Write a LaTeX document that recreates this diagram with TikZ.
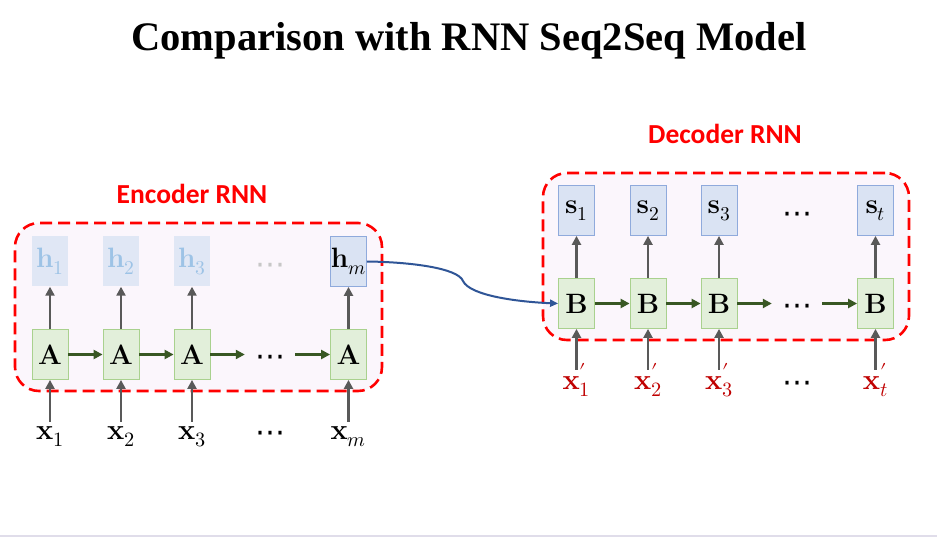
\documentclass[tikz,border=0pt]{standalone}
\usepackage{fontspec}
\usepackage{unicode-math}
\setmathfont{Latin Modern Math}
\newfontfamily\titlefont{Liberation Serif}
\newfontfamily\capfont{Carlito}
\newfontfamily\dotfont{DejaVu Sans}
\usetikzlibrary{arrows.meta}
\definecolor{boxpink}{HTML}{FBF6FC}
\definecolor{gfill}{HTML}{E2EFDA}
\definecolor{gline}{HTML}{A9D18E}
\definecolor{bfill}{HTML}{DAE3F3}
\definecolor{bline}{HTML}{8FAADC}
\definecolor{fadetext}{HTML}{9DC3E6}
\definecolor{garrow}{HTML}{595959}
\definecolor{greenarrow}{HTML}{385723}
\definecolor{curveblue}{HTML}{2F5597}
\definecolor{xred}{HTML}{C00000}
\definecolor{bottomline}{HTML}{E0DDEA}
\begin{document}
\begin{tikzpicture}[x=1pt,y=-1pt,
  cellbox/.style={minimum width=36pt,minimum height=50pt,inner sep=0pt,font=\fontsize{28}{30}\selectfont},
  abox/.style={cellbox,fill=gfill,draw=gline,line width=0.8pt},
  hbox/.style={cellbox,fill=bfill,draw=bline,line width=0.8pt},
  fadebox/.style={cellbox,fill=bfill!85!white,text=fadetext},
  inlbl/.style={inner sep=0pt,anchor=base,font=\fontsize{29}{30}\selectfont},
  dotsnode/.style={inner sep=0pt,minimum width=50pt,font=\dotfont\fontsize{30}{32}\selectfont},
  rnnframe/.style={draw=red,fill=boxpink,line width=2.6pt,dash pattern=on 12pt off 6pt,rounded corners=24pt},
  grayarr/.style={draw=garrow,line width=2.8pt,-{Triangle[length=9pt,width=9pt]}},
  greenarr/.style={draw=greenarrow,line width=2.8pt,-{Triangle[length=9pt,width=9pt]}},
  framelbl/.style={text=red,font=\capfont\bfseries\fontsize{27.5}{30}\selectfont}
]
\useasboundingbox (0,0) rectangle (937,537);
\fill[white] (0,0) rectangle (937,537);
\draw[bottomline,line width=1.5pt] (0,536) -- (937,536);

% title
\node[font=\titlefont\bfseries\fontsize{40.5}{44}\selectfont] (title) at (469,41) {Comparison with RNN Seq2Seq Model};

% ---------------- Encoder ----------------
\node[rnnframe,minimum width=367pt,minimum height=168pt] (encframe) at (198.5,307) {};
\node[framelbl] (enclbl) at (192,194) {Encoder RNN};

\node[fadebox] (h1) at (50,261.5) {$\mathbf{h}_1$};
\node[fadebox] (h2) at (121,261.5) {$\mathbf{h}_2$};
\node[fadebox] (h3) at (192,261.5) {$\mathbf{h}_3$};
\node[dotsnode,text=black!22] (hd) at (270,269) {⋯};
\node[hbox] (hm) at (348.5,261.5) {$\mathbf{h}_m$};

\node[abox] (A1) at (50,354.5) {$\mathbf{A}$};
\node[abox] (A2) at (121,354.5) {$\mathbf{A}$};
\node[abox] (A3) at (192,354.5) {$\mathbf{A}$};
\node[dotsnode] (ad) at (270,361) {⋯};
\node[abox] (Am) at (348.5,354.5) {$\mathbf{A}$};

\node[inlbl,text height=17pt] (x1) at (50,439) {$\mathbf{x}_1$};
\node[inlbl,text height=17pt] (x2) at (121,439) {$\mathbf{x}_2$};
\node[inlbl,text height=17pt] (x3) at (192,439) {$\mathbf{x}_3$};
\node[dotsnode] (xd) at (270,437) {⋯};
\node[inlbl,text height=17pt] (xm) at (348.5,439) {$\mathbf{x}_m$};

\foreach \i in {1,2,3,m} {
  \draw[grayarr] (x\i.north) -- (A\i.south);
  \draw[grayarr] (A\i.north) -- (h\i.south);
}
\draw[greenarr] (A1.east) -- (A2.west);
\draw[greenarr] (A2.east) -- (A3.west);
\draw[greenarr] (A3.east) -- (A3.east -| ad.west);
\draw[greenarr] (Am.west -| ad.east) -- (Am.west);

% ---------------- Decoder ----------------
\node[rnnframe,minimum width=366pt,minimum height=167pt] (decframe) at (726,256.5) {};
\node[framelbl] (declbl) at (725,134) {Decoder RNN};

\node[hbox] (s1) at (576.5,210.5) {$\mathbf{s}_1$};
\node[hbox] (s2) at (648,210.5) {$\mathbf{s}_2$};
\node[hbox] (s3) at (719,210.5) {$\mathbf{s}_3$};
\node[dotsnode] (sd) at (797,218) {⋯};
\node[hbox] (st) at (875.5,210.5) {$\mathbf{s}_t$};

\node[abox] (B1) at (576.5,303.5) {$\mathbf{B}$};
\node[abox] (B2) at (648,303.5) {$\mathbf{B}$};
\node[abox] (B3) at (719,303.5) {$\mathbf{B}$};
\node[dotsnode] (bd) at (797,310) {⋯};
\node[abox] (Bt) at (875.5,303.5) {$\mathbf{B}$};

\node[inlbl,text height=19pt,text=xred] (y1) at (576.5,389) {$\mathbf{x}'_1$};
\node[inlbl,text height=19pt,text=xred] (y2) at (648,389) {$\mathbf{x}'_2$};
\node[inlbl,text height=19pt,text=xred] (y3) at (719,389) {$\mathbf{x}'_3$};
\node[dotsnode] (yd) at (797,387) {⋯};
\node[inlbl,text height=19pt,text=xred] (yt) at (875.5,389) {$\mathbf{x}'_t$};

\foreach \i/\j in {1/1,2/2,3/3,t/t} {
  \draw[grayarr] (y\i.north) -- (B\i.south);
  \draw[grayarr] (B\i.north) -- (s\j.south);
}
\draw[greenarr] (B1.east) -- (B2.west);
\draw[greenarr] (B2.east) -- (B3.west);
\draw[greenarr] (B3.east) -- (B3.east -| bd.west);
\draw[greenarr] (Bt.west -| bd.east) -- (Bt.west);

% connector h_m -> B_1
\coordinate (kink) at (463,281);
\draw[curveblue,line width=2pt,-{Triangle[length=8pt,width=7pt]}]
  (hm.east) .. controls (410,262) and (458,268) .. (kink)
  .. controls (470,296) and (520,302) .. (B1.west);
\end{tikzpicture}
\end{document}
